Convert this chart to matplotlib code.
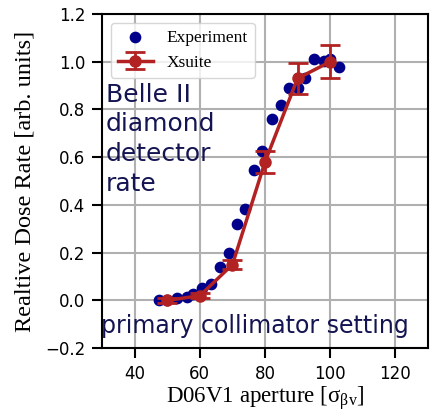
import matplotlib
matplotlib.use("Agg")
import matplotlib.pyplot as plt

# Experiment data
exp_x = [47.6, 49.8, 53, 56, 58, 60.7, 63.5, 66.2, 69, 71.4, 74, 76.6, 79, 82, 84.8,
         87.3, 90, 92.4, 95, 98, 100, 102.8]
exp_y = [0.0, 0.0, 0.01, 0.015, 0.025, 0.05, 0.07, 0.14, 0.2, 0.32, 0.385, 0.545, 0.625,
         0.76, 0.82, 0.89, 0.89, 0.93, 1.01, 1.005, 1.01, 0.98]

# Xsuite simulation
sim_x = [50, 60, 70, 80, 90, 100]
sim_y = [0.0, 0.02, 0.15, 0.58, 0.93, 1.0]
sim_err = [0.01, 0.01, 0.02, 0.047, 0.065, 0.07]

fig = plt.figure(figsize=(4.33, 4.12), dpi=100)
ax = fig.add_axes([0.236, 0.155, 0.752, 0.811])

ax.grid(True, color="#b0b0b0", linewidth=1.5, zorder=0)
ax.set_axisbelow(True)

ax.scatter(exp_x, exp_y, color="#00008b", s=55, zorder=3, label="Experiment")
ax.errorbar(sim_x, sim_y, yerr=sim_err, color="#b22222", marker="o", markersize=8,
            linewidth=2.5, capsize=7, capthick=2, elinewidth=2, zorder=4, label="Xsuite")

ax.set_xlim(30, 130)
ax.set_ylim(-0.2, 1.2)
ax.set_xticks([40, 60, 80, 100, 120])
ax.set_yticks([-0.2, 0.0, 0.2, 0.4, 0.6, 0.8, 1.0, 1.2])
ax.tick_params(labelsize=12, length=7, width=1.5, pad=5)

serif = {"family": "Liberation Serif"}
ax.set_xlabel(r"D06V1 aperture [$\mathregular{\sigma_{\beta v}}$]", fontsize=16.5, labelpad=1, **serif)
ax.set_ylabel("Realtive Dose Rate [arb. units]", fontsize=17.5, labelpad=7, **serif)

for s in ax.spines.values():
    s.set_linewidth(1.5)

leg = ax.legend(loc="upper left", prop={"family": "Liberation Serif", "size": 12.5},
                framealpha=0.8, handlelength=2.0, borderaxespad=0.5)

ax.text(0.012, 0.795, "Belle II\ndiamond\ndetector\nrate", transform=ax.transAxes,
        fontsize=18, color="#141452", va="top", ha="left", linespacing=1.3)
ax.text(-0.005, 0.065, "primary collimator setting", transform=ax.transAxes,
        fontsize=17, color="#141452", va="center", ha="left")

fig.savefig("out.png", dpi=100)
